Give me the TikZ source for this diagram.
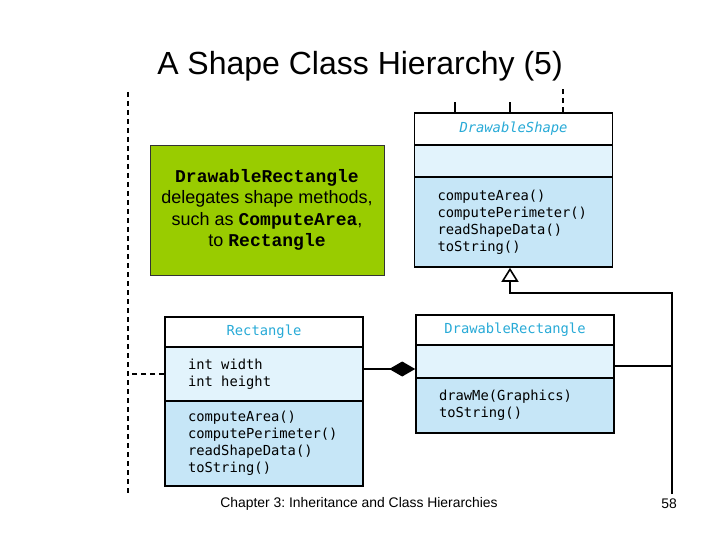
\documentclass[tikz,border=0pt]{standalone}
\usepackage{fontspec}
\setmainfont{Liberation Sans}
\setmonofont{DejaVu Sans Mono}
\newfontfamily\couriermono{Liberation Mono}
\usetikzlibrary{arrows.meta}
\definecolor{headcyan}{RGB}{40,170,215}
\definecolor{attrblue}{RGB}{226,243,252}
\definecolor{methblue}{RGB}{198,230,247}
\definecolor{notegreen}{RGB}{153,204,0}
\newcommand{\monosp}{\phantom{x}}
\frenchspacing
\begin{document}
\begin{tikzpicture}[x=1pt,y=-1pt,
  part/.style={draw, line width=1.6pt, minimum width=198pt, inner xsep=23pt,
    text width=152pt, align=left, font=\ttfamily\fontsize{13.8}{17}\selectfont},
  head/.style={part, fill=white, align=center, text=headcyan},
  attr/.style={part, fill=attrblue},
  meth/.style={part, fill=methblue},
  link/.style={line width=1.6pt},
  guide/.style={line width=1.6pt, dash pattern=on 5pt off 4pt}]
\useasboundingbox (0,0) rectangle (720,540);
\node (title) at (360,66) {\fontsize{32}{36}\selectfont A Shape Class Hierarchy (5)};
% DrawableShape
\node[head, minimum height=32pt] (dsHead) at (513.5,129) {\itshape DrawableShape};
\node[attr, minimum height=32pt] (dsAttr) at (513.5,161) {};
\node[meth, minimum height=90pt] (dsMeth) at (513.5,222)
{computeArea()\\computePerimeter()\\readShapeData()\\toString()};
% Rectangle
\node[head, minimum height=30pt] (rHead) at (264,332) {Rectangle};
\node[attr, minimum height=54pt] (rAttr) at (264,374) {int\monosp width\\int\monosp height};
\node[meth, minimum height=85pt] (rMeth) at (264,443.5)
{computeArea()\\computePerimeter()\\readShapeData()\\toString()};
% DrawableRectangle
\node[head, minimum height=30pt] (drHead) at (515,330) {DrawableRectangle};
\node[attr, minimum height=33pt] (drAttr) at (515,361.5) {};
\node[meth, minimum height=55pt] (drMeth) at (515,405.5) {drawMe(Graphics)\\toString()};
% note
\node[draw=black!80, fill=notegreen, minimum width=234pt, minimum height=130pt,
  align=center, font=\fontsize{18}{21.3}\selectfont] (note) at (267,210)
{{\couriermono\bfseries DrawableRectangle}\\delegates shape methods,\\
such as {\couriermono\bfseries ComputeArea},\\to {\couriermono\bfseries Rectangle}};
% connectors
\coordinate (bus) at (672,293);
\coordinate (busTap) at (672,366);
\coordinate (busEnd) at (672,494);
\coordinate (tip) at (510,293);
\coordinate (cmp) at (0,369);
\coordinate (lt) at (128,92);
\coordinate (lb) at (128,495);
\draw[link, -{Triangle[open, width=17pt, length=14pt, line width=1.6pt]}]
  (busEnd) -- (bus) -- (tip) -- (tip |- dsMeth.south);
\draw[link] (drAttr.east |- busTap) -- (busTap);
\draw[link, -{Diamond[width=15pt, length=26pt]}] (rAttr.east |- cmp) -- (drAttr.west |- cmp);
\draw[guide] (lt) -- (lb);
\draw[guide] (rAttr.west) -- (rAttr.west -| lt);
\draw[link] (dsHead.north -| 455,0) -- +(0,-10);
\draw[link] (dsHead.north -| 510,0) -- +(0,-10);
\draw[guide] (dsHead.north -| 563,0) -- +(0,-23);
% footer
\node (chapter) at (359,504) {\fontsize{13.9}{16}\selectfont Chapter 3: Inheritance and Class Hierarchies};
\node (page) at (669,504) {\fontsize{13.9}{16}\selectfont 58};
\end{tikzpicture}
\end{document}
